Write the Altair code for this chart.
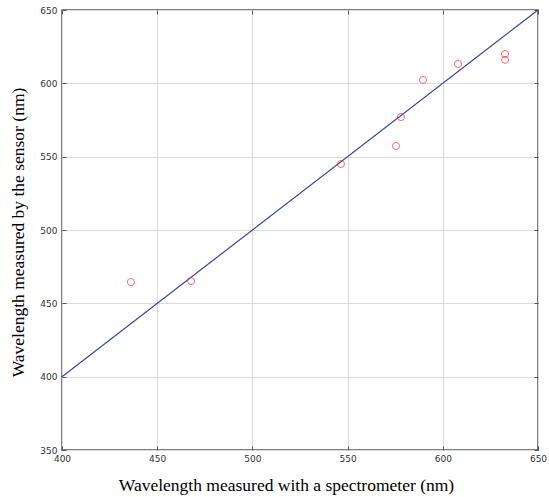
import altair as alt
import pandas as pd

spectro_nm = [436.2, 467.8, 546.5, 575.4, 578.0, 589.6, 608.0, 632.7, 632.7]
sensor_nm = [464.5, 465.2, 545.0, 557.3, 577.0, 602.3, 613.2, 620.0, 616.0]
line_x = [400, 650]
line_y = [400, 650]
ticks = [400, 450, 500, 550, 600, 650]
yticks = [350, 400, 450, 500, 550, 600, 650]

pts = pd.DataFrame({"x": spectro_nm, "y": sensor_nm})
ln = pd.DataFrame({"x": line_x, "y": line_y})

W, H = 476, 440
xs = alt.Scale(domain=[400, 650], nice=False, zero=False)
ys = alt.Scale(domain=[350, 650], nice=False, zero=False)

common = dict(grid=False, domain=False, labels=False, ticks=True, tickSize=4,
              tickColor="#555", tickWidth=1, title=None)

# main layer: labels, titles, grid
base_line = alt.Chart(ln).mark_line(color="#3446a0", strokeWidth=1.2).encode(
    x=alt.X("x:Q", scale=xs, axis=alt.Axis(
        values=ticks, orient="bottom", grid=True, gridColor="#dcdcdc", domain=False,
        ticks=False, labelFont="DejaVu Sans", labelFontSize=9, labelColor="#333",
        labelFlush=False, labelPadding=4,
        title="Wavelength measured with a spectrometer (nm)",
        titleFont="Liberation Serif", titleFontSize=17.5, titleFontWeight="normal",
        titleColor="#000", titlePadding=13, titleX=224)),
    y=alt.Y("y:Q", scale=ys, axis=alt.Axis(
        values=yticks, orient="left", grid=True, gridColor="#dcdcdc", domain=False,
        ticks=False, labelFont="DejaVu Sans", labelFontSize=9, labelColor="#333",
        labelFlush=False, labelPadding=5,
        title="Wavelength measured by the sensor (nm)",
        titleFont="Liberation Serif", titleFontSize=17.5, titleFontWeight="normal",
        titleColor="#000", titlePadding=12, titleY=222)),
)

points = alt.Chart(pts).mark_point(shape="circle", filled=False, color="#ff2a2a",
                                   size=50, strokeWidth=1).encode(
    x=alt.X("x:Q", scale=xs, axis=alt.Axis(values=ticks, orient="top", offset=-H, **common)),
    y=alt.Y("y:Q", scale=ys, axis=alt.Axis(values=yticks, orient="right", offset=-W, **common)),
)

ghost = alt.Chart(pts).mark_point(opacity=0).encode(
    x=alt.X("x:Q", scale=xs, axis=alt.Axis(values=ticks, orient="bottom", offset=-H, **common)),
    y=alt.Y("y:Q", scale=ys, axis=alt.Axis(values=yticks, orient="left", offset=-W, **common)),
)

chart = alt.layer(base_line, points, ghost).resolve_axis(
    x="independent", y="independent"
).properties(
    width=W, height=H,
    autosize=alt.AutoSizeParams(type="none"),
    padding={"left": 62, "top": 10, "right": 11, "bottom": 47},
).configure_view(stroke="#555", strokeWidth=1.5)

chart.save("out.html", embed_options={"renderer": "svg", "actions": False})
